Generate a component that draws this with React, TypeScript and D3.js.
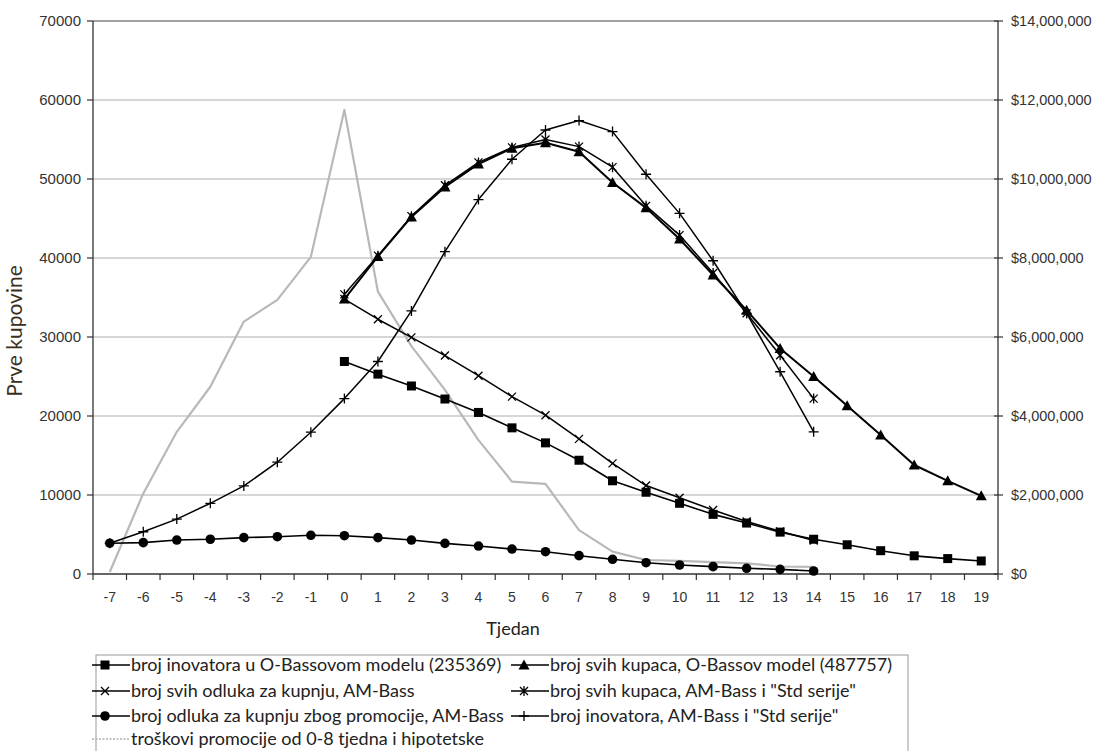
import React from "react";
import * as d3 from "d3";

const weeks: number[] = [-7,-6,-5,-4,-3,-2,-1,0,1,2,3,4,5,6,7,8,9,10,11,12,13,14,15,16,17,18,19];
const leftTicks: number[] = [0,10000,20000,30000,40000,50000,60000,70000];
const rightTicks: number[] = [0,2000000,4000000,6000000,8000000,10000000,12000000,14000000];

// weeks 0..19
const innovatorsOBass: number[] = [26900,25300,23800,22150,20450,18500,16600,14400,11800,10350,8950,7550,6450,5300,4400,3700,2950,2300,1950,1650];
// weeks 0..19
const allBuyersOBass: number[] = [34800,40200,45200,49000,51900,53900,54600,53450,49550,46350,42400,37850,33400,28550,25000,21300,17600,13800,11800,9900];
// weeks 0..14
const allDecisionsAM: number[] = [34800,32250,29950,27650,25100,22450,20100,17100,14000,11200,9650,8100,6650,5400,4250];
// weeks 0..14
const allBuyersAMStd: number[] = [35400,40300,45300,49200,52100,54000,55000,54100,51500,46600,42900,38100,33000,27700,22200];
// weeks -7..14
const innovatorsAMStd: number[] = [3900,5350,6950,8950,11150,14150,17950,22200,26900,33300,40800,47400,52500,56200,57400,56000,50600,45650,39650,33000,25600,18000];
// weeks -7..14
const promoDecisions: number[] = [3900,3970,4300,4400,4600,4720,4900,4850,4600,4300,3880,3540,3160,2820,2320,1860,1430,1140,930,720,590,380];
// weeks -7..14 (right axis, $)
const promoCost: number[] = [50000,2040000,3600000,4740000,6390000,6940000,8030000,11750000,7150000,5770000,4660000,3390000,2340000,2280000,1110000,565000,354000,330000,300000,270000,190000,180000];

const legendLabels: string[] = [
  "broj inovatora u O-Bassovom modelu (235369)",
  "broj svih kupaca, O-Bassov model (487757)",
  "broj svih odluka za kupnju, AM-Bass",
  "broj svih kupaca, AM-Bass i \"Std serije\"",
  "broj odluka za kupnju zbog promocije, AM-Bass",
  "broj inovatora, AM-Bass i \"Std serije\"",
  "troškovi promocije od 0-8 tjedna i hipotetske",
];

type MarkerType = "square" | "triangle" | "x" | "star" | "circle" | "plus" | "none";

const L = 93, R = 998, T = 21, B = 574;
const x = d3.scaleBand<string>().domain(weeks.map(String)).range([L, R]).padding(0);
const xc = (w: number) => (x(String(w)) as number) + x.bandwidth() / 2;
const yL = d3.scaleLinear().domain([0, 70000]).range([B, T]);
const yR = d3.scaleLinear().domain([0, 14000000]).range([B, T]);

function Marker({ type, cx, cy }: { type: MarkerType; cx: number; cy: number }) {
  const s = 4;
  switch (type) {
    case "square":
      return <rect x={cx - 4.5} y={cy - 4.5} width={9} height={9} fill="#000" />;
    case "triangle":
      return <path d={`M${cx},${cy - 5.5}L${cx + 5.5},${cy + 4.5}L${cx - 5.5},${cy + 4.5}Z`} fill="#000" />;
    case "circle":
      return <circle cx={cx} cy={cy} r={4.8} fill="#000" />;
    case "x":
      return <path d={`M${cx - s},${cy - s}L${cx + s},${cy + s}M${cx - s},${cy + s}L${cx + s},${cy - s}`} stroke="#000" strokeWidth={1.3} />;
    case "star":
      return <path d={`M${cx - s},${cy - s}L${cx + s},${cy + s}M${cx - s},${cy + s}L${cx + s},${cy - s}M${cx},${cy - 5}L${cx},${cy + 5}`} stroke="#000" strokeWidth={1.3} />;
    case "plus":
      return <path d={`M${cx - 5},${cy}L${cx + 5},${cy}M${cx},${cy - 5}L${cx},${cy + 5}`} stroke="#000" strokeWidth={1.3} />;
    default:
      return null;
  }
}

function Series({ start, values, scale, marker, width, color, dash }: {
  start: number; values: number[]; scale: d3.ScaleLinear<number, number>; marker: MarkerType; width: number; color: string; dash?: string;
}) {
  const pts: [number, number][] = values.map((v, i) => [xc(start + i), scale(v)]);
  const line = d3.line<[number, number]>().curve(d3.curveLinear)(pts) || "";
  return (
    <g>
      <path d={line} fill="none" stroke={color} strokeWidth={width} strokeDasharray={dash} strokeLinejoin="round" />
      {marker !== "none" && pts.map((p, i) => <Marker key={i} type={marker} cx={p[0]} cy={p[1]} />)}
    </g>
  );
}

export default function App() {
  const tickFont = "'Liberation Sans', Arial, sans-serif";
  const legendFont = "Lato, 'Open Sans', sans-serif";
  const fmtMoney = (v: number) => "$" + d3.format(",")(v);
  const legendItems: { col: number; row: number; marker: MarkerType; label: string; gray?: boolean }[] = [
    { col: 0, row: 0, marker: "square", label: legendLabels[0] },
    { col: 1, row: 0, marker: "triangle", label: legendLabels[1] },
    { col: 0, row: 1, marker: "x", label: legendLabels[2] },
    { col: 1, row: 1, marker: "star", label: legendLabels[3] },
    { col: 0, row: 2, marker: "circle", label: legendLabels[4] },
    { col: 1, row: 2, marker: "plus", label: legendLabels[5] },
    { col: 0, row: 3, marker: "none", label: legendLabels[6], gray: true },
  ];
  const colX = [92, 511];
  const colLen = [38, 38];
  const rowY = [665, 691, 716, 739];
  return (
    <svg width={1105} height={751} style={{ position: "absolute", left: 0, top: 0, background: "#fff" }}>
      <rect x={0} y={0} width={1105} height={751} fill="#fff" />
      {/* gridlines */}
      {leftTicks.slice(1).map((t) => (
        <line key={t} x1={L} x2={R} y1={yL(t)} y2={yL(t)} stroke={t === 70000 ? "#444" : "#c8c8c8"} strokeWidth={t === 70000 ? 1.2 : 1.5} />
      ))}
      {/* axes */}
      <line x1={L} x2={L} y1={T} y2={B} stroke="#333" strokeWidth={1.3} />
      <line x1={R} x2={R} y1={T} y2={B} stroke="#333" strokeWidth={1.3} />
      <line x1={L} x2={R} y1={B} y2={B} stroke="#333" strokeWidth={1.3} />
      {leftTicks.map((t) => (
        <g key={t}>
          <line x1={L - 6} x2={L} y1={yL(t)} y2={yL(t)} stroke="#333" strokeWidth={1.2} />
          <text x={81} y={yL(t)} dy="0.36em" textAnchor="end" fontFamily={tickFont} fontSize={15} fill="#333">{t}</text>
        </g>
      ))}
      {rightTicks.map((t) => (
        <g key={t}>
          <line x1={R - 4} x2={R + 5} y1={yR(t)} y2={yR(t)} stroke="#333" strokeWidth={1.2} />
          <text x={1011} y={yR(t)} dy="0.36em" textAnchor="start" fontFamily={tickFont} fontSize={14.5} fill="#333">{fmtMoney(t)}</text>
        </g>
      ))}
      {weeks.map((w, i) => (
        <g key={w}>
          <line x1={(x(String(w)) as number) + x.bandwidth()} x2={(x(String(w)) as number) + x.bandwidth()} y1={B} y2={B + 6} stroke="#333" strokeWidth={1.2} />
          {i === 0 && <line x1={L} x2={L} y1={B} y2={B + 6} stroke="#333" strokeWidth={1.2} />}
          <text x={xc(w)} y={597} dy="0.36em" textAnchor="middle" fontFamily={tickFont} fontSize={14} fill="#333">{w}</text>
        </g>
      ))}
      {/* series */}
      <Series start={-7} values={promoCost} scale={yR} marker="none" width={2.2} color="#b8b8b8" />
      <Series start={-7} values={promoDecisions} scale={yL} marker="circle" width={1.6} color="#000" />
      <Series start={-7} values={innovatorsAMStd} scale={yL} marker="plus" width={1.5} color="#000" />
      <Series start={0} values={allDecisionsAM} scale={yL} marker="x" width={1.5} color="#000" />
      <Series start={0} values={innovatorsOBass} scale={yL} marker="square" width={1.6} color="#000" />
      <Series start={0} values={allBuyersOBass} scale={yL} marker="triangle" width={2} color="#000" />
      <Series start={0} values={allBuyersAMStd} scale={yL} marker="star" width={1.5} color="#000" />
      {/* axis titles */}
      <text transform={`translate(22,${331}) rotate(-90)`} textAnchor="middle" fontFamily={legendFont} fontSize={21} fill="#3a3020">Prve kupovine</text>
      <text x={513} y={629} dy="0.36em" textAnchor="middle" fontFamily={legendFont} fontSize={18} fill="#222">Tjedan</text>
      {/* legend */}
      <rect x={96} y={655} width={812} height={110} fill="none" stroke="#999" strokeWidth={1} />
      {legendItems.map((it, i) => {
        const lx = colX[it.col];
        const len = colLen[it.col];
        const ly = rowY[it.row];
        return (
          <g key={i}>
            <line x1={lx} x2={lx + len} y1={ly} y2={ly} stroke={it.gray ? "#b0b0b0" : "#000"} strokeWidth={1.5} strokeDasharray={it.gray ? "2,1.5" : undefined} />
            <Marker type={it.marker} cx={lx + 13} cy={ly} />
            <text x={lx + len + 1} y={ly} dy="0.35em" fontFamily={legendFont} fontSize={18} fill="#222">{it.label}</text>
          </g>
        );
      })}
    </svg>
  );
}
